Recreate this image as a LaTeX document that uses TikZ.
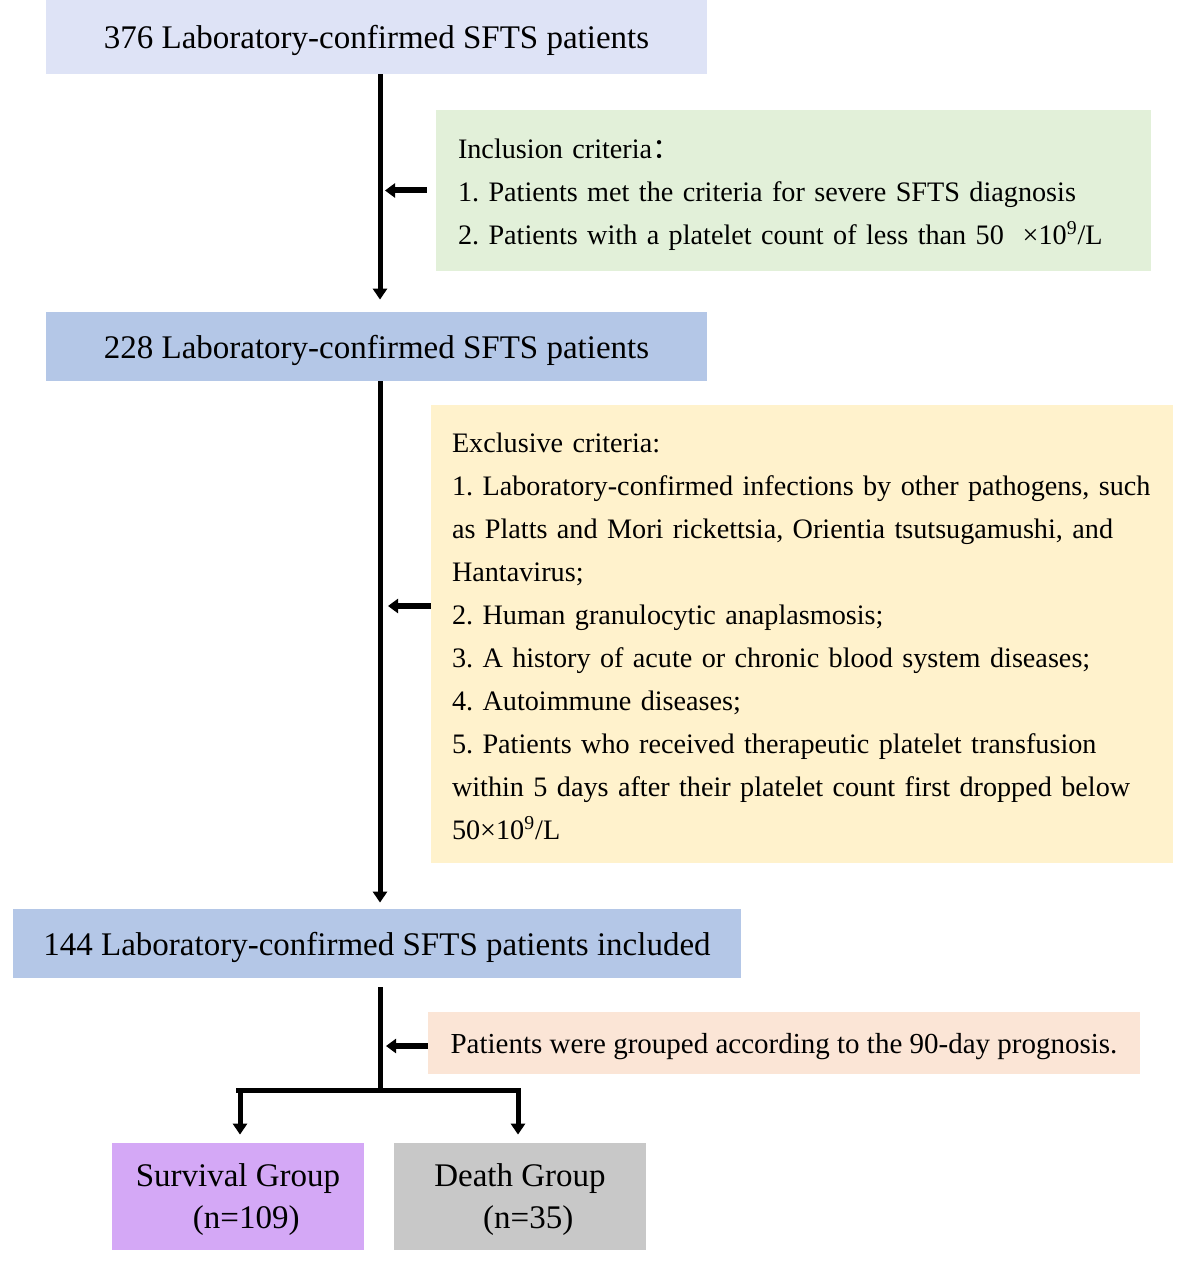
\documentclass[tikz,border=0pt]{standalone}
\usepackage{fontspec}
\setmainfont{Liberation Serif}
\newfontfamily\cjk{Noto Sans CJK SC}
\usetikzlibrary{arrows.meta}
\usetikzlibrary{calc}
\frenchspacing

\definecolor{lavfill}{RGB}{222,227,246}
\definecolor{bluefill}{RGB}{180,199,231}
\definecolor{greenfill}{RGB}{226,240,217}
\definecolor{yellowfill}{RGB}{255,242,204}
\definecolor{peachfill}{RGB}{251,229,214}
\definecolor{purplefill}{RGB}{212,168,246}
\definecolor{greyfill}{RGB}{200,200,200}

\newcommand{\jline}[1]{\makebox[350pt][s]{#1}}

\tikzset{
  stagebox/.style={inner sep=0pt, text depth=0pt, font=\fontsize{16.5}{21}\selectfont},
  critbox/.style={inner sep=0pt, align=left, font=\fontsize{14.1}{21.5}\selectfont},
  flowline/.style={line width=2.5pt},
  flowarrow/.style={line width=2.5pt, -{Triangle[width=7pt,length=5.5pt]}},
  sidearrow/.style={line width=3pt, -{Triangle[width=7pt,length=5pt]}},
}

\begin{document}
\begin{tikzpicture}[x=0.5pt,y=-0.5pt]
  \useasboundingbox (0,0) rectangle (1181,1262);
  \coordinate (trunk) at (380,0);

  \node[stagebox, fill=lavfill, minimum width=330.5pt, minimum height=37pt] (n376) at (376.5,37) {376 Laboratory-confirmed SFTS patients};
  \node[critbox, fill=greenfill, minimum width=357.5pt, minimum height=80.5pt, text width=335.5pt] (inc) at (793.5,190.5)
    {\rule{0pt}{14pt}Inclusion criteria{\cjk ：}\\
     1. Patients met the criteria for severe SFTS diagnosis\\
     2. Patients with a platelet count of less than 50\ \ ×10\textsuperscript{9}/L};
  \node[stagebox, fill=bluefill, minimum width=330.5pt, minimum height=34.5pt] (n228) at (376.5,346.5) {228 Laboratory-confirmed SFTS patients};
  \node[critbox, fill=yellowfill, minimum width=371pt, minimum height=229pt, text width=350pt] (exc) at (802,634)
    {\rule{0pt}{12.5pt}Exclusive criteria:\\
     \jline{1. Laboratory-confirmed infections by other pathogens, such}\\
     \jline{as Platts and Mori rickettsia, Orientia tsutsugamushi, and}\\
     Hantavirus;\\
     2. Human granulocytic anaplasmosis;\\
     3. A history of acute or chronic blood system diseases;\\
     4. Autoimmune diseases;\\
     \jline{5. Patients who received therapeutic platelet transfusion}\\
     \jline{within 5 days after their platelet count first dropped below}\\
     50×10\textsuperscript{9}/L};
  \node[stagebox, fill=bluefill, minimum width=364pt, minimum height=34.5pt] (n144) at (377,943.5) {144 Laboratory-confirmed SFTS patients included};
  \node[critbox, fill=peachfill, minimum width=356pt, minimum height=31pt, align=center, text depth=0pt, font=\fontsize{14.5}{21.5}\selectfont] (grp) at (784,1043) {Patients were grouped according to the 90-day prognosis.};
  \node[stagebox, fill=purplefill, minimum width=126pt, minimum height=53.5pt, align=center] (surv) at (238,1196.5) {Survival Group\\\ \ (n=109)};
  \node[stagebox, fill=greyfill, minimum width=126pt, minimum height=53.5pt, align=center] (death) at (520,1196.5) {Death Group\\\ \ (n=35)};

  % main flow
  \draw[flowarrow, shorten >=6pt] (n376.south -| trunk) -- (n228.north -| trunk);
  \draw[flowarrow, shorten >=3pt] (n228.south -| trunk) -- (n144.north -| trunk);
  \draw[sidearrow, shorten <=4.5pt, shorten >=2.5pt] (inc.west) -- (inc.west -| trunk);
  \draw[sidearrow, shorten >=4pt] ($(exc.west)+(0,-28)$) -- ($(exc.west -| trunk)+(0,-28)$);

  % grouping
  \coordinate (split) at (380,1090);
  \coordinate (bl) at (236,1090);
  \coordinate (br) at (521,1090);
  \draw[flowline] ($(n144.south -| trunk)+(0,9)$) -- (split);
  \draw[flowline] (bl) -- (br);
  \draw[sidearrow, shorten >=3pt] ($(grp.west)+(0,3)$) -- ($(grp.west -| trunk)+(0,3)$);
  \draw[flowarrow, shorten >=4pt] ($(bl)+(4,0)$) -- ($(surv.north)+(2,0)$);
  \draw[flowarrow, shorten >=4pt] ($(br)+(-3,0)$) -- ($(death.north)+(-2,0)$);
\end{tikzpicture}
\end{document}
